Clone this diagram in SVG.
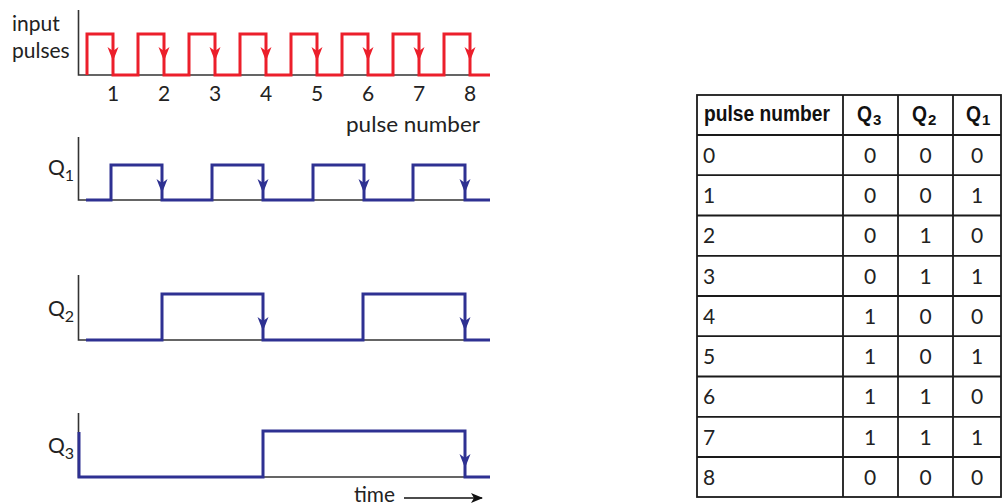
<svg xmlns="http://www.w3.org/2000/svg" width="1002" height="504" viewBox="0 0 1002 504">
  <style>
    .lbl { font-family: Lato, "Liberation Sans", sans-serif; font-size: 21px; fill: #222; }
    .sub { font-family: Lato, "Liberation Sans", sans-serif; font-size: 16px; fill: #222; }
    .hdr { font-family: "Liberation Sans Narrow", "Liberation Sans", sans-serif; font-weight: bold; font-size: 22px; fill: #111; }
    .hsub { font-family: "Liberation Sans Narrow", "Liberation Sans", sans-serif; font-weight: bold; font-size: 15px; fill: #111; }
    .axis { fill: none; stroke: #333; stroke-width: 1.6; }
    .red { fill: none; stroke: #ec1f2b; stroke-width: 3; stroke-linejoin: miter; }
    .blue { fill: none; stroke: #2e3192; stroke-width: 3; stroke-linejoin: miter; }
    .grid { fill: none; stroke: #1a1a1a; stroke-width: 1.8; }
    .c { text-anchor: middle; }
  </style>
  <defs>
    <!-- notched arrowhead, tip at origin pointing down -->
    <path id="ah" d="M-5.5,-14 L0,0 L5.5,-14 L0,-10 Z"/>
    <marker id="tarrow" markerWidth="12" markerHeight="10" refX="11" refY="5" orient="auto" markerUnits="userSpaceOnUse">
      <path d="M0,0 L12,5 L0,10 L3,5 Z" fill="#111"/>
    </marker>
  </defs>

  <!-- input pulses -->
  <g id="input">
    <path class="axis" d="M78.5,10 V75 H490"/>
    <path class="red" d="M87,75 V34 H113 V75 H138 V34 H164 V75 H189 V34 H215 V75 H240 V34 H266 V75 H291 V34 H317 V75 H342 V34 H368 V75 H393 V34 H419 V75 H444 V34 H470 V75 H490"/>
    <g fill="#ec1f2b">
      <use href="#ah" x="113" y="61"/>
      <use href="#ah" x="164" y="61"/>
      <use href="#ah" x="215" y="61"/>
      <use href="#ah" x="266" y="61"/>
      <use href="#ah" x="317" y="61"/>
      <use href="#ah" x="368" y="61"/>
      <use href="#ah" x="419" y="61"/>
      <use href="#ah" x="470" y="61"/>
    </g>
    <text class="lbl" x="12" y="31" font-size="23">input</text>
    <text class="lbl" x="12" y="58" font-size="23">pulses</text>
    <g class="lbl c" font-size="22">
      <text x="113" y="101">1</text>
      <text x="164" y="101">2</text>
      <text x="215" y="101">3</text>
      <text x="266" y="101">4</text>
      <text x="317" y="101">5</text>
      <text x="368" y="101">6</text>
      <text x="419" y="101">7</text>
      <text x="470" y="101">8</text>
    </g>
    <text class="lbl" x="346" y="132" font-size="22" textLength="134" lengthAdjust="spacingAndGlyphs">pulse number</text>
  </g>

  <!-- Q1 -->
  <g id="q1">
    <path class="axis" d="M78.5,137 V200 H490"/>
    <path class="blue" d="M86,200 H111 V165 H162 V200 H212 V165 H263 V200 H313 V165 H364 V200 H413 V165 H465 V200 H490"/>
    <g fill="#2e3192">
      <use href="#ah" x="162" y="193"/>
      <use href="#ah" x="263" y="193"/>
      <use href="#ah" x="364" y="193"/>
      <use href="#ah" x="465" y="193"/>
    </g>
    <text class="lbl" x="48" y="175" font-size="24">Q<tspan class="sub" dy="6">1</tspan></text>
  </g>

  <!-- Q2 -->
  <g id="q2">
    <path class="axis" d="M78.5,275 V340 H490"/>
    <path class="blue" d="M86,340 H162 V294 H263 V340 H363 V294 H465 V340 H490"/>
    <g fill="#2e3192">
      <use href="#ah" x="263" y="331"/>
      <use href="#ah" x="465" y="331"/>
    </g>
    <text class="lbl" x="48" y="316" font-size="24">Q<tspan class="sub" dy="6">2</tspan></text>
  </g>

  <!-- Q3 -->
  <g id="q3">
    <path class="axis" d="M78.5,413 V477 H490"/>
    <path class="blue" d="M79,432 V477 H263 V431 H465 V477 H490"/>
    <g fill="#2e3192">
      <use href="#ah" x="465" y="468"/>
    </g>
    <text class="lbl" x="48" y="453" font-size="24">Q<tspan class="sub" dy="6">3</tspan></text>
  </g>

  <!-- time axis label -->
  <g id="time">
    <text class="lbl" x="354" y="502" font-size="22" textLength="41" lengthAdjust="spacingAndGlyphs">time</text>
    <line x1="404" y1="498" x2="482" y2="498" stroke="#111" stroke-width="1.6" marker-end="url(#tarrow)"/>
  </g>

  <!-- truth table -->
  <g id="table">
    <rect class="grid" x="697" y="95" width="304" height="402"/>
    <path class="grid" d="M843,95 V497 M898,95 V497 M953,95 V497"/>
    <path class="grid" d="M697,135 H1001 M697,175.2 H1001 M697,215.5 H1001 M697,255.8 H1001 M697,296 H1001 M697,336.2 H1001 M697,376.5 H1001 M697,416.8 H1001 M697,457 H1001"/>

    <text class="hdr" x="704" y="121" textLength="126" lengthAdjust="spacingAndGlyphs">pulse number</text>
    <text class="hdr" x="857" y="121" textLength="15" lengthAdjust="spacingAndGlyphs">Q</text>
    <text class="hsub" x="873" y="125">3</text>
    <text class="hdr" x="912" y="121" textLength="15" lengthAdjust="spacingAndGlyphs">Q</text>
    <text class="hsub" x="928" y="125">2</text>
    <text class="hdr" x="966" y="121" textLength="15" lengthAdjust="spacingAndGlyphs">Q</text>
    <text class="hsub" x="982" y="125">1</text>

    <g class="lbl" font-size="22">
      <text x="703" y="163">0</text>
      <text x="703" y="203">1</text>
      <text x="703" y="243">2</text>
      <text x="703" y="284">3</text>
      <text x="703" y="324">4</text>
      <text x="703" y="364">5</text>
      <text x="703" y="404">6</text>
      <text x="703" y="445">7</text>
      <text x="703" y="485">8</text>
    </g>
    <g class="lbl c" font-size="22">
      <text x="870" y="163">0</text><text x="925.5" y="163">0</text><text x="977" y="163">0</text>
      <text x="870" y="203">0</text><text x="925.5" y="203">0</text><text x="977" y="203">1</text>
      <text x="870" y="243">0</text><text x="925.5" y="243">1</text><text x="977" y="243">0</text>
      <text x="870" y="284">0</text><text x="925.5" y="284">1</text><text x="977" y="284">1</text>
      <text x="870" y="324">1</text><text x="925.5" y="324">0</text><text x="977" y="324">0</text>
      <text x="870" y="364">1</text><text x="925.5" y="364">0</text><text x="977" y="364">1</text>
      <text x="870" y="404">1</text><text x="925.5" y="404">1</text><text x="977" y="404">0</text>
      <text x="870" y="445">1</text><text x="925.5" y="445">1</text><text x="977" y="445">1</text>
      <text x="870" y="485">0</text><text x="925.5" y="485">0</text><text x="977" y="485">0</text>
    </g>
  </g>
</svg>
